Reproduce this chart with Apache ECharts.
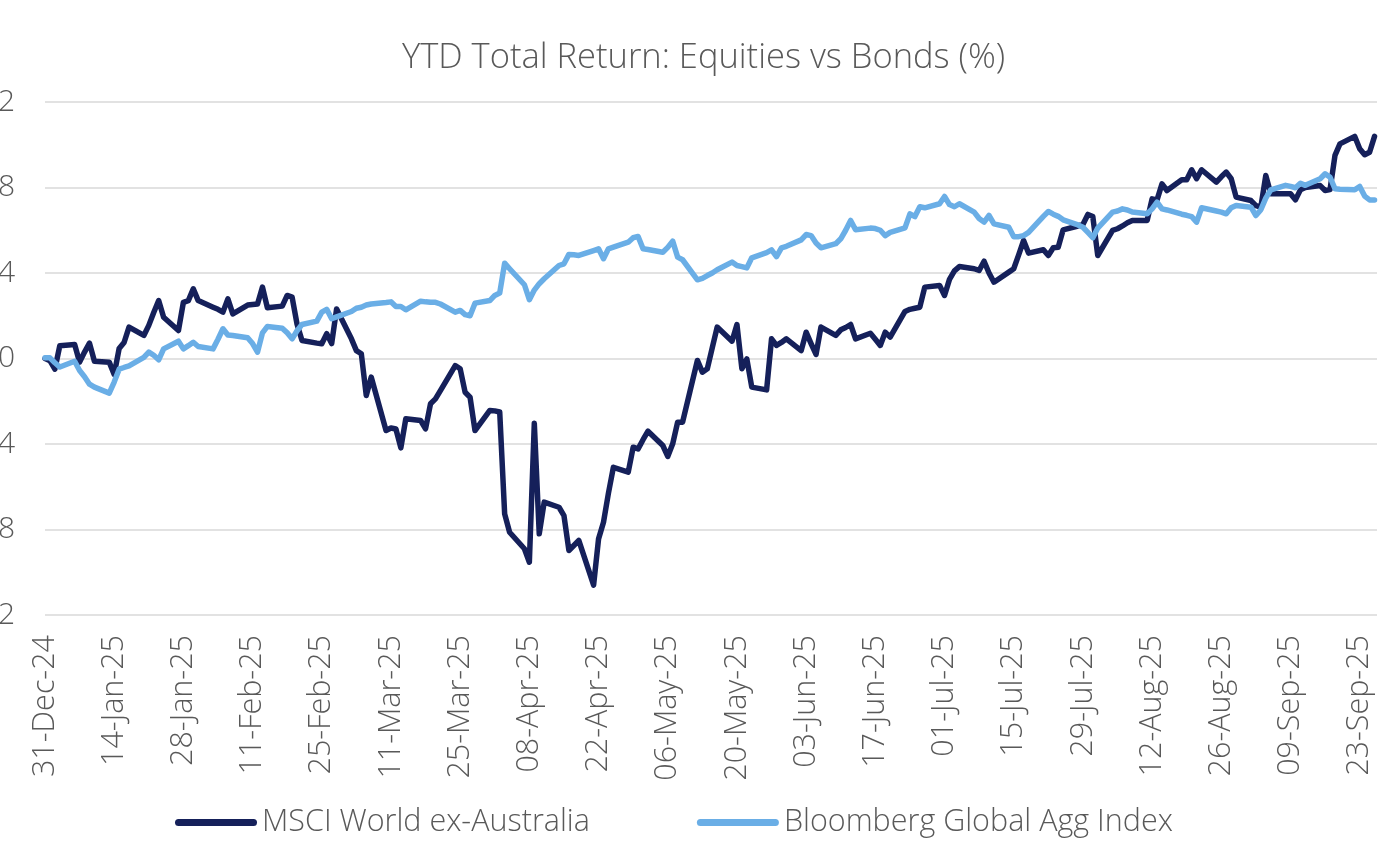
<!DOCTYPE html>
<html>
<head>
<meta charset="utf-8">
<script src="https://cdn.jsdelivr.net/npm/echarts@6/dist/echarts.min.js"></script>
<style>
html,body{margin:0;padding:0;background:#fff;}
#chart{width:1380px;height:863px;}
</style>
</head>
<body>
<div id="chart"></div>
<script>
// Series values, one per weekday from 31-Dec-24 to 26-Sep-25 (grouped by week)
const msciWorldExAus = [
  0, -0.1, -0.5, 0.6,
  0.65, -0.17, 0.3, 0.72, -0.13,
  -0.17, -0.75, 0.47, 0.75, 1.47,
  1.08, 1.55, 2.15, 2.71, 1.93,
  1.31, 2.63, 2.71, 3.26, 2.71,
  2.4, 2.3, 2.17, 2.79, 2.09,
  2.5, 2.53, 2.55, 3.34, 2.37,
  2.45, 2.95, 2.87, 1.6, 0.84,
  0.72, 0.69, 1.16, 0.7, 2.32,
  0.92, 0.37, 0.22, -1.73, -0.87,
  -3.37, -3.25, -3.3, -4.18, -2.82,
  -2.9, -3.29, -2.12, -1.89, -1.5,
  -0.33, -0.48, -1.58, -1.81, -3.37,
  -2.43, -2.45, -2.5, -7.27, -8.13,
  -8.9, -9.53, -3.03, -8.2, -6.72,
  -6.96, -7.35, -8.98, -8.75, -8.51,
  -10.6, -8.44, -7.66, -6.3, -5.09,
  -5.32, -4.15, -4.23, -3.8, -3.4,
  -4.07, -4.58, -3.99, -2.98, -2.98,
  -0.09, -0.64, -0.48, 0.5, 1.47,
  0.81, 1.59, -0.48, -0.02, -1.34,
  -1.47, 0.92, 0.61, 0.75, 0.92,
  0.37, 1.23, 0.7, 0.19, 1.47,
  1.08, 1.34, 1.45, 1.59, 0.92,
  1.18, 0.9, 0.61, 1.23, 1.0,
  2.2, 2.3, 2.35, 2.4, 3.34,
  3.42, 2.95, 3.7, 4.1, 4.3,
  4.2, 4.12, 4.55, 4.0, 3.57,
  4.04, 4.2, 4.85, 5.52, 4.93,
  5.09, 4.82, 5.18, 5.2, 6.02,
  6.2, 6.27, 6.74, 6.64, 4.82,
  5.99, 6.07, 6.2, 6.35, 6.46,
  6.46, 7.47, 7.42, 8.17, 7.86,
  8.36, 8.36, 8.83, 8.41, 8.83,
  8.25, 8.5, 8.72, 8.41, 7.55,
  7.39, 7.15, 7.08, 8.56, 7.71,
  7.71, 7.71, 7.42, 7.89, 8.0,
  8.09, 7.86, 7.9, 9.5, 10.04,
  10.39, 9.81, 9.53, 9.65, 10.39
];
const bloombergGlobalAgg = [
  0.03, 0.03, -0.2, -0.4,
  -0.13, -0.56, -0.85, -1.2, -1.34,
  -1.62, -1.1, -0.5, -0.42, -0.35,
  0.05, 0.3, 0.15, -0.06, 0.45,
  0.81, 0.45, 0.6, 0.76, 0.56,
  0.45, 0.9, 1.39, 1.1, 1.08,
  0.97, 0.7, 0.3, 1.2, 1.5,
  1.42, 1.2, 0.92, 1.3, 1.59,
  1.75, 2.17, 2.3, 1.86, 1.95,
  2.2, 2.35, 2.4, 2.5, 2.55,
  2.62, 2.65, 2.43, 2.43, 2.28,
  2.68, 2.65, 2.63, 2.63, 2.55,
  2.17, 2.25, 2.05, 2.0, 2.59,
  2.71, 2.95, 3.06, 4.46, 4.2,
  3.45, 2.75, 3.2, 3.5, 3.73,
  4.35, 4.43, 4.87, 4.85, 4.82,
  5.05, 5.13, 4.67, 5.13, 5.21,
  5.44, 5.65, 5.71, 5.13, 5.1,
  4.97, 5.2, 5.49, 4.74, 4.62,
  3.68, 3.75, 3.88, 4.0, 4.15,
  4.51, 4.35, 4.3, 4.24, 4.71,
  4.95, 5.08, 4.77, 5.18, 5.25,
  5.55, 5.8, 5.75, 5.4, 5.18,
  5.37, 5.6, 6.0, 6.46, 6.02,
  6.1, 6.08, 6.0, 5.75, 5.9,
  6.11, 6.77, 6.64, 7.1, 7.05,
  7.24, 7.58, 7.2, 7.1, 7.24,
  6.85, 6.55, 6.38, 6.69, 6.3,
  6.14, 5.7, 5.7, 5.75, 5.9,
  6.65, 6.88, 6.75, 6.65, 6.49,
  6.25, 6.14, 5.9, 5.65, 6.1,
  6.85, 6.9, 7.0, 6.95, 6.85,
  6.77, 7.0, 7.31, 7.0, 6.95,
  6.75, 6.7, 6.64, 6.38, 7.05,
  6.9, 6.85, 6.77, 7.05, 7.16,
  7.08, 6.69, 6.96, 7.5, 7.89,
  8.1, 8.05, 7.99, 8.2, 8.1,
  8.41, 8.64, 8.48, 7.94, 7.92,
  7.89, 8.05, 7.6, 7.42, 7.42
];
const seriesNames = ['MSCI World ex-Australia', 'Bloomberg Global Agg Index'];
const xTickLabels = [
  '31-Dec-24', '14-Jan-25', '28-Jan-25', '11-Feb-25', '25-Feb-25',
  '11-Mar-25', '25-Mar-25', '08-Apr-25', '22-Apr-25', '06-May-25',
  '20-May-25', '03-Jun-25', '17-Jun-25', '01-Jul-25', '15-Jul-25',
  '29-Jul-25', '12-Aug-25', '26-Aug-25', '09-Sep-25', '23-Sep-25'
];
const yTicks = [-12, -8, -4, 0, 4, 8, 12];

// Weekday positions (days since 31-Dec-24)
const DAY = 86400000;
const START = Date.UTC(2024, 11, 31);
const LAST = Date.UTC(2025, 8, 26);
const dayIndex = [];
for (let t = START; t <= LAST; t += DAY) {
  const dow = new Date(t).getUTCDay();
  if (dow !== 0 && dow !== 6) dayIndex.push(Math.round((t - START) / DAY));
}
const pair = arr => dayIndex.map((d, i) => [d, arr[i]]);

const textColor = '#595959';
const fontFamily = '"Open Sans", "Noto Sans", sans-serif';
const chart = echarts.init(document.getElementById('chart'), null, {renderer: 'canvas'});
chart.setOption({
  backgroundColor: '#ffffff',
  animation: false,
  title: {
    text: 'YTD Total Return: Equities vs Bonds (%)',
    left: 397,
    top: 36,
    textStyle: {color: textColor, fontSize: 34.5, fontWeight: 300, fontFamily: fontFamily}
  },
  legend: {
    left: 170,
    top: 802,
    itemWidth: 82,
    itemHeight: 7,
    itemGap: 107,
    icon: 'path://M3.5,0 L78.5,0 A3.5,3.5 0 0 1 78.5,7 L3.5,7 A3.5,3.5 0 0 1 3.5,0 Z',
    textStyle: {color: textColor, fontSize: 30.5, fontWeight: 300, fontFamily: fontFamily},
    data: seriesNames
  },
  grid: {left: 45, right: 3, top: 102, bottom: 248, containLabel: false, outerBoundsMode: 'none'},
  xAxis: {
    type: 'value',
    min: 0,
    max: 269.5,
    interval: 14,
    axisLine: {show: false},
    axisTick: {show: false},
    splitLine: {show: false},
    axisLabel: {
      rotate: 90,
      margin: 20,
      color: textColor,
      fontSize: 30.5,
      fontWeight: 300,
      fontFamily: fontFamily,
      showMaxLabel: false,
      formatter: v => (v % 14 === 0 && xTickLabels[v / 14]) || ''
    }
  },
  yAxis: {
    type: 'value',
    min: yTicks[0],
    max: yTicks[yTicks.length - 1],
    interval: 4,
    axisLine: {show: false},
    axisTick: {show: false},
    splitLine: {lineStyle: {color: '#d9d9d9', width: 1.5}},
    axisLabel: {color: textColor, fontSize: 30, fontWeight: 300, fontFamily: fontFamily, margin: 30}
  },
  series: [
    {
      name: seriesNames[0],
      type: 'line',
      data: pair(msciWorldExAus),
      showSymbol: false,
      symbol: 'none',
      color: '#15205a',
      lineStyle: {width: 5.5, color: '#15205a', cap: 'round', join: 'round'}
    },
    {
      name: seriesNames[1],
      type: 'line',
      data: pair(bloombergGlobalAgg),
      showSymbol: false,
      symbol: 'none',
      color: '#6aaee6',
      lineStyle: {width: 5.5, color: '#6aaee6', cap: 'round', join: 'round'}
    }
  ]
});
</script>
</body>
</html>
